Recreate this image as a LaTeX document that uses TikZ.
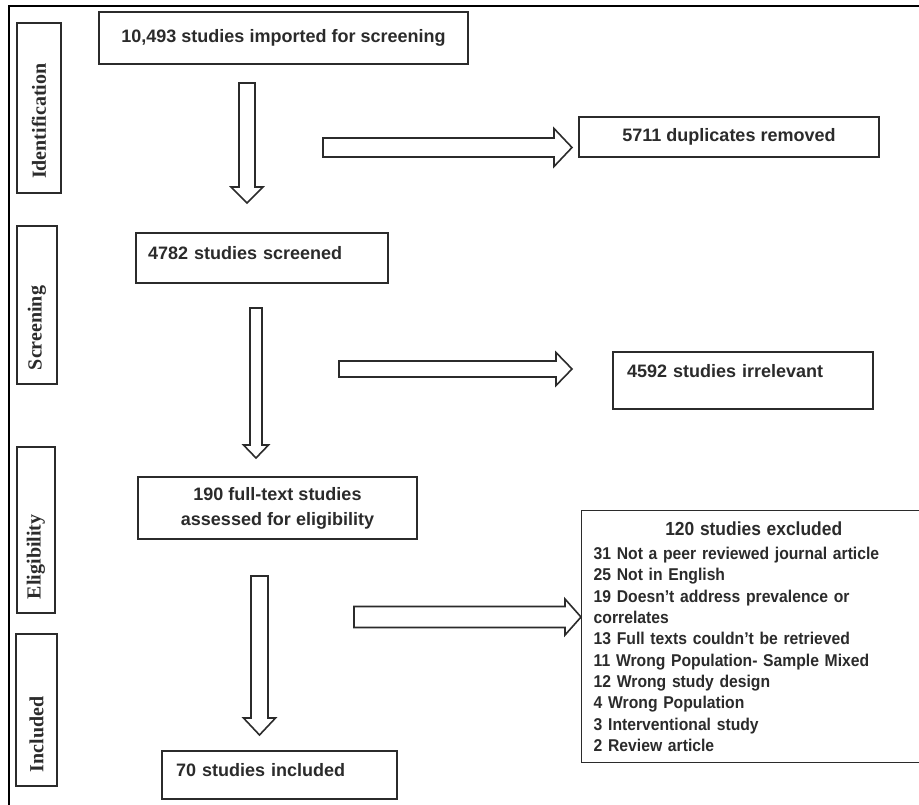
\documentclass[tikz,border=0pt]{standalone}
\usepackage{fontspec}
\setmainfont{Liberation Sans}
\newfontfamily\labelfont{Liberation Serif}
\newfontfamily\narrowsans[FakeStretch=0.92,Ligatures=TeX]{Liberation Sans}
\usetikzlibrary{calc}
\definecolor{ink}{HTML}{2B2B2B}
\newcommand{\downblock}[5]{%
  \draw[hollow] let \p1=(#1), \p2=(#2) in
    (\x1-#3*0.75pt,\y1) -- (\x1+#3*0.75pt,\y1) -- (\x1+#3*0.75pt,\y2+#5*0.75pt)
    -- (\x1+#4*0.75pt,\y2+#5*0.75pt) -- (\x2,\y2) -- (\x1-#4*0.75pt,\y2+#5*0.75pt)
    -- (\x1-#3*0.75pt,\y2+#5*0.75pt) -- cycle;}
\newcommand{\rightblock}[5]{%
  \draw[hollow] let \p1=(#1), \p2=(#2) in
    (\x1,\y1+#3*0.75pt) -- (\x2-#5*0.75pt,\y1+#3*0.75pt) -- (\x2-#5*0.75pt,\y1+#4*0.75pt)
    -- (\x2,\y2) -- (\x2-#5*0.75pt,\y1-#4*0.75pt) -- (\x2-#5*0.75pt,\y1-#3*0.75pt)
    -- (\x1,\y1-#3*0.75pt) -- cycle;}
\begin{document}
\begin{tikzpicture}[x=0.75pt,y=-0.75pt,
  hollow/.style={draw=ink, line width=1.2pt, fill=white, line join=miter},
  mainbox/.style={draw=ink, line width=1.1pt, text=ink, font=\bfseries\fontsize{13.5}{18.75}\selectfont, inner sep=0pt},
  sidebox/.style={draw=ink, line width=1.1pt, text=ink, rotate=90, font=\labelfont\bfseries\fontsize{15}{18}\selectfont, align=left, inner xsep=10.5pt, inner ysep=0pt},
  listbox/.style={draw=ink, line width=1.1pt, text=ink, font=\narrowsans\bfseries\fontsize{12.8}{16}\selectfont, align=left, inner xsep=9pt, inner ysep=0pt}
]
\useasboundingbox (0,0) rectangle (919,805);
\clip (0,0) rectangle (919,805);
\fill[white] (0,0) rectangle (919,805);
% outer frame
\draw[black, line width=1.9pt] (9,805) -- (9,6) -- (919,6);

% side labels
\node[sidebox, minimum width=127.5pt, minimum height=33pt, text width=106.5pt] (sid) at (39,108) {Identification};
\node[sidebox, minimum width=118.5pt, minimum height=30pt, text width=97.5pt] (sscr) at (37,305) {Screening};
\node[sidebox, minimum width=124.5pt, minimum height=28.5pt, text width=103.5pt] (selig) at (36,530) {Eligibility};
\node[sidebox, minimum width=114pt, minimum height=30.75pt, text width=93pt] (sinc) at (36.5,710) {Included};

% main boxes
\node[mainbox, minimum width=276.75pt, minimum height=39pt] (b1) at (283.5,38) {10,493 studies imported for screening};
\node[mainbox, minimum width=225pt, minimum height=30pt] (dup) at (729,137) {5711 duplicates removed};
\node[mainbox, minimum height=37.5pt, inner xsep=9pt, text width=171pt, align=left, text height=10pt, text depth=7.8pt] (b2) at (262,258) {4782 studies screened};
\node[mainbox, minimum height=42.75pt, inner xsep=10.5pt, text width=174pt, align=left, text height=10pt, text depth=14.6pt] (irr) at (743,380.5) {4592 studies irrelevant};
\node[mainbox, minimum width=209.25pt, minimum height=46.5pt, align=center] (b3) at (277.5,508) {190 full-text studies\\assessed for eligibility};
\node[mainbox, minimum height=36pt, inner xsep=10.5pt, text width=155.25pt, align=left, text height=10pt, text depth=7.9pt] (b4) at (279.5,775) {70 studies included};
\node[listbox, text width=240pt, minimum height=189pt, anchor=north west] (exc) at (581,510)
 {\makebox[\linewidth][c]{\fontsize{14.2}{16}\selectfont 120 studies excluded}\\[2pt]
  31 Not a peer reviewed journal article\\
  25 Not in English\\
  19 Doesn't address prevalence or\\
  correlates\\
  13 Full texts couldn't be retrieved\\
  11 Wrong Population- Sample Mixed\\
  12 Wrong study design\\
  4 Wrong Population\\
  3 Interventional study\\
  2 Review article};

% block arrows
\coordinate (d1s) at (247,83);   \coordinate (d1t) at (247,203);
\coordinate (d2s) at (256,308);  \coordinate (d2t) at (256,458);
\coordinate (d3s) at (259.5,576);\coordinate (d3t) at (259.5,735);
\coordinate (r1s) at (323,147.5);\coordinate (r1t) at (572,147.5);
\coordinate (r2s) at (339,369);  \coordinate (r2t) at (572,369);
\coordinate (r3s) at (354,617);  \coordinate (r3t) at (exc.west |- 0,617);
\downblock{d1s}{d1t}{8}{16}{16}
\downblock{d2s}{d2t}{6}{12.5}{13}
\downblock{d3s}{d3t}{8.5}{16}{17}
\rightblock{r1s}{r1t}{9.5}{19}{18}
\rightblock{r2s}{r2t}{8}{16.5}{16}
\rightblock{r3s}{r3t}{10.5}{18}{16}
\end{tikzpicture}
\end{document}
